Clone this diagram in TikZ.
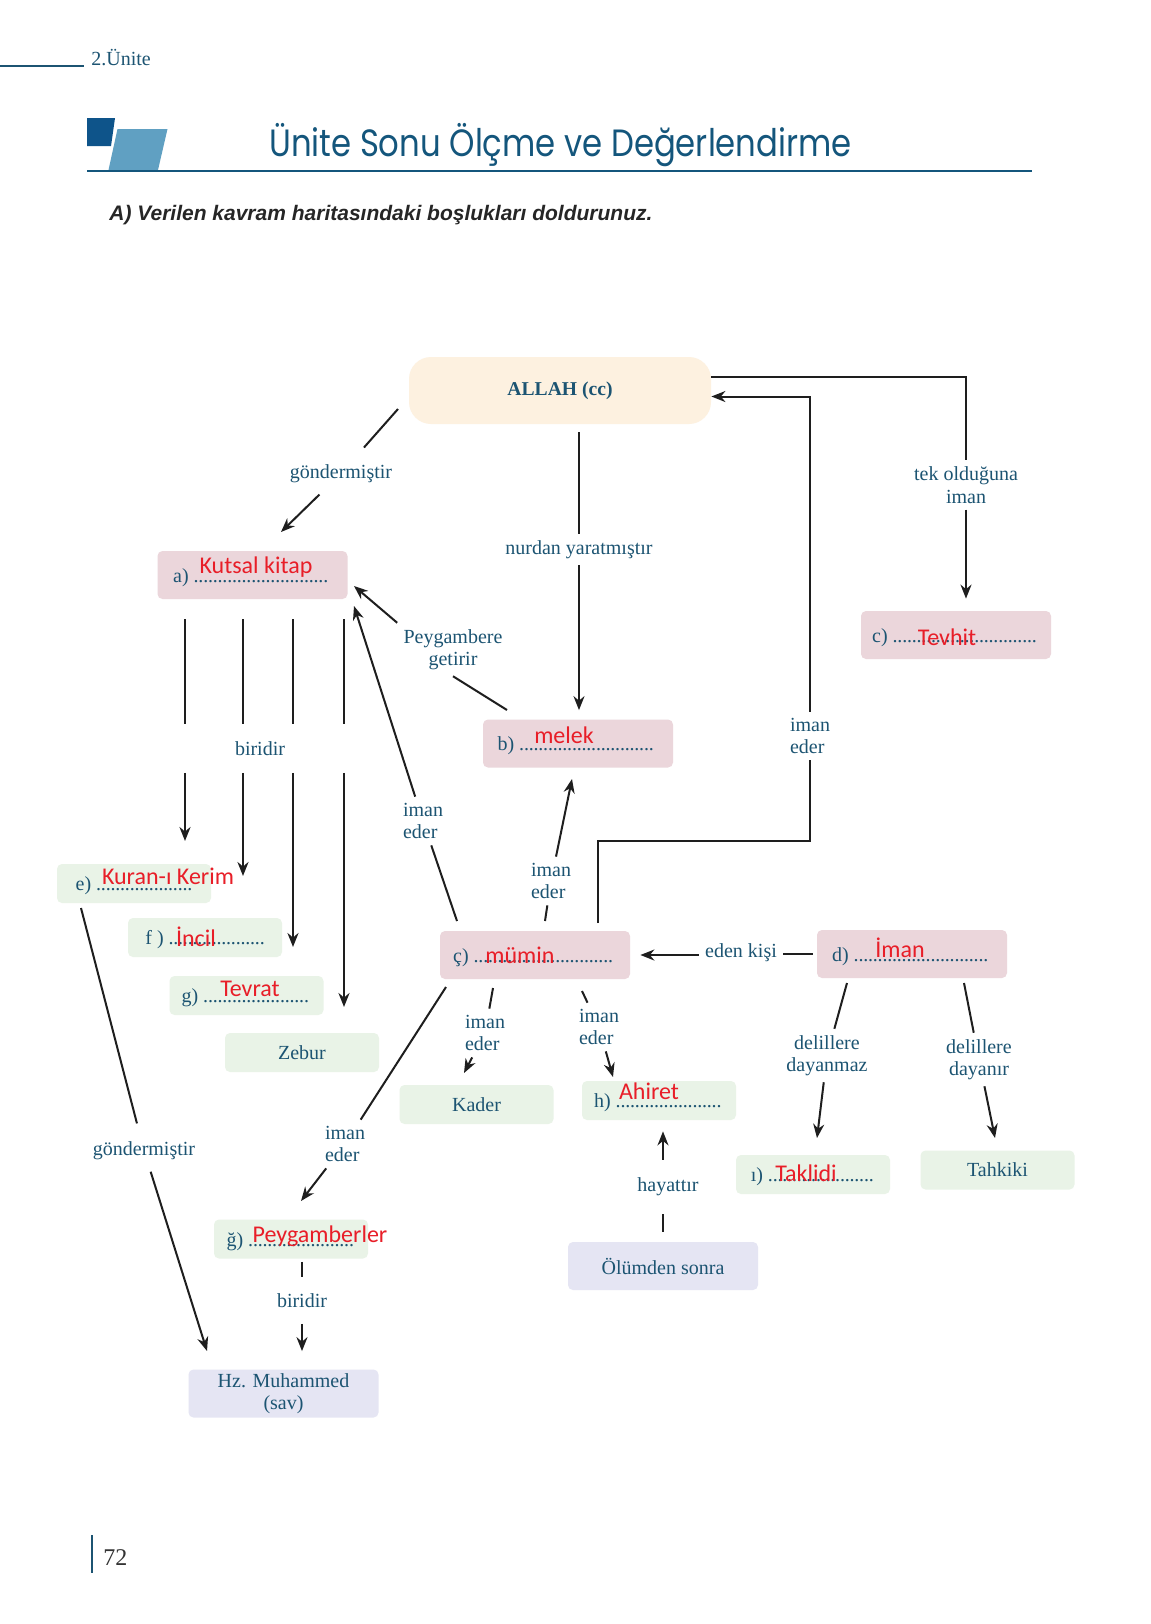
\documentclass[tikz,border=0pt]{standalone}
\usepackage{fontspec}
\setmainfont{Liberation Serif}
\newfontfamily\titlefont{Poppins}
\newfontfamily\answerfont{Carlito}
\newfontfamily\taskfont{Liberation Sans}
\usetikzlibrary{arrows.meta, positioning}

\definecolor{inkblue}{RGB}{28,84,114}
\definecolor{titleblue}{RGB}{20,86,124}
\definecolor{squareblue}{RGB}{14,84,138}
\definecolor{lightblue}{RGB}{96,160,194}
\definecolor{boxpink}{RGB}{235,214,219}
\definecolor{boxgreen}{RGB}{233,243,231}
\definecolor{boxlilac}{RGB}{229,229,243}
\definecolor{boxpeach}{RGB}{253,241,224}
\definecolor{answerred}{RGB}{232,30,40}
\definecolor{linegray}{RGB}{30,30,30}

\newcommand{\lblsize}{\fontsize{10}{11.25}\selectfont}
\newcommand{\blank}[1]{\hbox to #1{\leaders\hbox to 2.4pt{\hss.\hss}\hfill}}

\begin{document}
\begin{tikzpicture}[x=0.5pt,y=-0.5pt]

\tikzset{
  field/.style={rounded corners=2.5pt, inner sep=0pt, text=inkblue, font=\lblsize, minimum width=77pt, minimum height=19.5pt},
  bigfield/.style={field, minimum width=95pt, minimum height=24pt},
  pinkbox/.style={bigfield, fill=boxpink},
  greenbox/.style={field, fill=boxgreen},
  lilacbox/.style={bigfield, fill=boxlilac, align=center},
  blankfield/.style={text height=7pt, text depth=0pt},
  lbl/.style={text=inkblue, font=\lblsize, inner sep=3pt},
  answer/.style={text=answerred, font=\answerfont\fontsize{12}{14}\selectfont, inner sep=0pt},
  link/.style={draw=linegray, line width=1pt},
  arrow/.style={link, -{Stealth[length=7pt,width=5.5pt]}}
}

\useasboundingbox (0,0) rectangle (1151,1624);
\fill[white] (0,0) rectangle (1151,1624);

% page header
\draw[inkblue, line width=0.7pt] (0,66) -- (84,66);
\node[anchor=base west, inner sep=0pt, text=inkblue, font=\fontsize{10}{12}\selectfont] (unit) at (91,65) {2.Ünite};
\fill[squareblue] (87,118) -- (115,118) -- (111,146) -- (87,146) -- cycle;
\fill[lightblue] (117.5,129) -- (167.5,129) -- (158,170) -- (108.5,170) -- cycle;
\draw[titleblue, line width=1pt] (87,171) -- (1032,171);
\node[anchor=base, inner sep=0pt, text=titleblue, font=\titlefont\fontsize{19}{22}\selectfont, xscale=0.85] (title) at (560.5,156) {Ünite Sonu Ölçme ve Değerlendirme};
\node[anchor=base west, inner sep=0pt, text=black!85, font=\taskfont\bfseries\itshape\fontsize{10.5}{12}\selectfont] (task) at (109,220) {A) Verilen kavram haritasındaki boşlukları doldurunuz.};

% boxes
\node[rounded corners=11pt, fill=boxpeach, minimum width=151pt, minimum height=33.5pt, text=inkblue, font=\bfseries\fontsize{9.8}{11}\selectfont] (allah) at (560,390.5) {ALLAH (cc)};
\node[pinkbox, blankfield] (a) at (252.5,575) {a) \blank{69pt}};
\node[pinkbox, blankfield] (b) at (578,743.5) {b) \blank{69.5pt}};
\node[pinkbox, blankfield] (c) at (956,635) {c) \blank{73.5pt}};
\node[pinkbox, blankfield] (cc) at (535,955) {ç) \blank{71.5pt}};
\node[pinkbox, blankfield] (d) at (912,954) {d) \blank{69pt}};
\node[greenbox, blankfield] (e) at (134,883.5) {e) \blank{48pt}};
\node[greenbox, blankfield] (f) at (205,937.5) {f ) \blank{48pt}};
\node[greenbox, blankfield] (g) at (246.5,995.5) {g) \blank{54pt}};
\node[greenbox] (zebur) at (302,1052.5) {Zebur};
\node[greenbox] (kader) at (476.5,1104.5) {Kader};
\node[greenbox, blankfield] (h) at (659,1100.5) {h) \blank{54pt}};
\node[greenbox, blankfield] (gg) at (291,1239) {ğ) \blank{53.5pt}};
\node[greenbox, blankfield] (ii) at (813,1174.5) {ı) \blank{53.5pt}};
\node[greenbox] (tahkiki) at (997.5,1170) {Tahkiki};
\node[lilacbox] (olum) at (663,1266) {Ölümden sonra};
\node[lilacbox] (hz) at (283.5,1393.5) {Hz. Muhammed\\(sav)};

% answers
\node[answer] (ansa) at (256,567) {Kutsal kitap};
\node[answer] (ansb) at (564,735) {melek};
\node[answer] (ansc) at (947,637) {Tevhit};
\node[answer] (anscc) at (520,955) {mümin};
\node[answer] (ansd) at (900,948) {İman};
\node[answer] (anse) at (168,876) {Kuran-ı Kerim};
\node[answer] (ansf) at (196,937) {İncil};
\node[answer] (ansg) at (250,989) {Tevrat};
\node[answer] (ansh) at (649,1091) {Ahiret};
\node[answer] (ansgg) at (320,1236) {Peygamberler};
\node[answer] (ansii) at (806,1173) {Taklidi};

% labels
\node[lbl] (lgonda) at (341,473.5) {göndermiştir};
\node[lbl] (lnur) at (579,549.5) {nurdan yaratmıştır};
\node[lbl, align=center] (ltek) at (966,485) {tek olduğuna\\iman};
\node[lbl, align=left] (liman) at (810,736) {iman\\eder};
\node[lbl, align=center] (lpeyg) at (453,649.5) {Peygambere\\getirir};
\node[lbl, inner ysep=8.5pt] (lbir) at (260,748.5) {biridir};
\node[lbl, align=left] (limana) at (423,821) {iman\\eder};
\node[lbl, align=left] (limanb) at (551,881) {iman\\eder};
\node[lbl] (leden) at (741,953) {eden kişi};
\node[lbl] (lgondb) at (144,1150.5) {göndermiştir};
\node[lbl, align=left] (limanc) at (345,1144) {iman\\eder};
\node[lbl, align=left] (limand) at (485,1033) {iman\\eder};
\node[lbl, align=left] (limane) at (599,1027) {iman\\eder};
\node[lbl, inner ysep=8.8pt] (lhayat) at (668,1187) {hayattır};
\node[lbl, inner ysep=8pt] (lbirb) at (302,1300.5) {biridir};
\node[lbl, align=center] (ldaym) at (827,1055.5) {delillere\\dayanmaz};
\node[lbl, align=center] (ldayn) at (979,1059.5) {delillere\\dayanır};

% free ends
\coordinate (g1) at (398,409);
\coordinate (g2) at (281,532);
\coordinate (u1) at (598,923);
\coordinate (p1) at (507,710);
\coordinate (p2) at (354,586);
\coordinate (q1) at (457,921);
\coordinate (q2) at (354,606);
\coordinate (r1) at (545,921);
\coordinate (r2) at (572,779);
\coordinate (te) at (185,841);
\coordinate (tf) at (243,876);
\coordinate (tg) at (293,947);
\coordinate (tz) at (344,1007);
\coordinate (e1) at (81,908);
\coordinate (e2) at (207,1351);
\coordinate (s1) at (446,987);
\coordinate (s2) at (301,1201);
\coordinate (k1) at (493,988);
\coordinate (k2) at (464,1073);
\coordinate (h1) at (582,991);
\coordinate (h2) at (613,1077);
\coordinate (d1) at (847,983);
\coordinate (d2) at (817,1138);
\coordinate (t1) at (964,983);
\coordinate (t2) at (995,1138);

% connectors
\draw[link, shorten >=7pt] (g1) -- (lgonda);
\draw[arrow, shorten <=4pt] (lgonda) -- (g2);
\draw[link] (lnur |- allah.south) ++(0,8) -- (lnur);
\draw[arrow, shorten >=4.5pt] (lnur) -- (lnur |- b.north);
\draw[link] ([yshift=7pt]allah.east) -| (ltek);
\draw[arrow, shorten >=6pt] (ltek) -- (ltek |- c.north);
\draw[link] (u1) -- ++(0,-82) -| (liman);
\draw[arrow] (liman) |- ([yshift=-3pt]allah.east);
\draw[link] (p1) -- (lpeyg.south);
\draw[arrow] (lpeyg.north west) -- (p2);
\draw[link] (q1) -- (limana);
\draw[arrow] (limana) -- (q2);
\draw[link] (r1) -- (limanb);
\draw[arrow] (limanb) -- (r2);
\draw[arrow, shorten >=5pt] (leden.west |- cc.east) -- (cc.east);
\draw[link, shorten <=2pt] (d.west) -- (leden.east |- d.west);
\foreach \t in {te,tf,tg,tz} {
  \draw[link] (a.south -| \t) ++(0,20) -- (lbir.north -| \t);
  \draw[arrow] (lbir.south -| \t) -- (\t);
}
\draw[link, shorten >=6pt] (e1) -- (lgondb);
\draw[arrow, shorten <=3pt] (lgondb) -- (e2);
\draw[link] (s1) -- (limanc);
\draw[arrow] (limanc) -- (s2);
\draw[link] (k1) -- (limand);
\draw[arrow] (limand) -- (k2);
\draw[link] (h1) -- (limane);
\draw[arrow] (limane) -- (h2);
\draw[link, shorten <=5pt] (olum.north) -- (olum.north |- lhayat.south);
\draw[arrow, shorten >=5.5pt] (olum.north |- lhayat.north) -- (olum.north |- h.south);
\draw[link, shorten <=1.5pt] (lbirb.north |- gg.south) -- (lbirb);
\draw[arrow, shorten >=9pt] (lbirb) -- (lbirb.south |- hz.north);
\draw[link] (d1) -- (ldaym);
\draw[arrow] (ldaym) -- (d2);
\draw[link] (t1) -- (ldayn);
\draw[arrow] (ldayn) -- (t2);

% page number
\draw[inkblue, line width=0.6pt] (92,1535) -- (92,1573);
\node[anchor=base west, inner sep=0pt, text=black!80, font=\fontsize{12}{14}\selectfont] (pageno) at (103,1565) {72};

\end{tikzpicture}
\end{document}
